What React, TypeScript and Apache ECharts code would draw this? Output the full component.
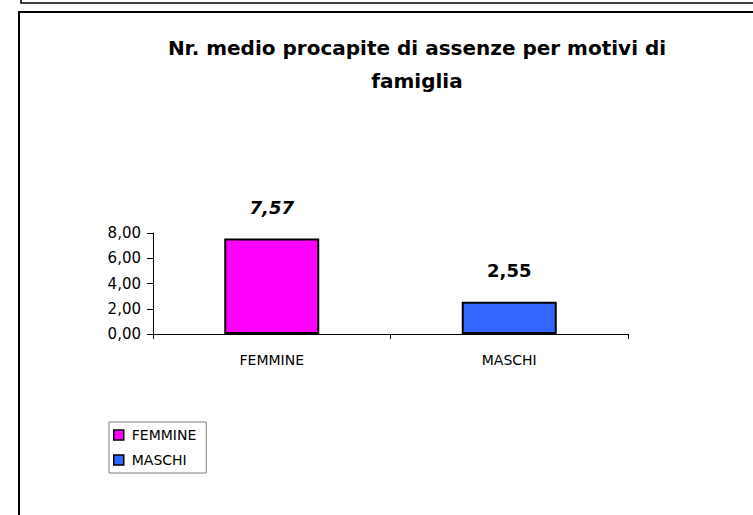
import React, { useEffect, useRef } from "react";
import * as echarts from "echarts";

const titleText = "Nr. medio procapite di assenze per motivi di\nfamiglia";
const categories = ["FEMMINE", "MASCHI"];
const values = [7.57, 2.55];
const barColors = ["#FF00FF", "#3366FF"];
const labelItalic = [true, false];
const yMin = 0;
const yMax = 8;
const yInterval = 2;

const fmt = (v: number) => v.toFixed(2).replace(".", ",");

export default function App() {
  const ref = useRef<HTMLDivElement>(null);
  useEffect(() => {
    if (!ref.current) return;
    const chart = echarts.init(ref.current, null, { renderer: "svg" });
    const font = "DejaVu Sans";
    chart.setOption({
      animation: false,
      backgroundColor: "#ffffff",
      title: {
        text: titleText,
        left: 412,
        top: 26,
        textAlign: "center",
        textStyle: {
          fontFamily: font,
          fontWeight: "bold",
          fontSize: 20,
          lineHeight: 33,
          color: "#000",
        },
      },
      legend: {
        orient: "vertical",
        left: 109,
        top: 422,
        padding: [6, 10, 6, 4],
        itemWidth: 10,
        itemHeight: 10,
        itemGap: 11,
        borderColor: "#808080",
        borderWidth: 1,
        icon: "rect",
        data: categories.map((c, i) => ({
          name: c,
          itemStyle: { color: barColors[i], borderColor: "#000", borderWidth: 1.5 },
        })),
        textStyle: { fontFamily: font, fontSize: 14, color: "#000", padding: [0, 0, 0, 3] },
      },
      graphic: [
        {
          type: "polyline",
          shape: { points: [[21, -5], [21, 3], [770, 3]] },
          style: { fill: "none", stroke: "#000", lineWidth: 1.5 },
          silent: true,
        },
        {
          type: "polyline",
          shape: { points: [[770, 12], [19, 12], [19, 530]] },
          style: { fill: "none", stroke: "#000", lineWidth: 2 },
          silent: true,
        },
      ],
      grid: { left: 153, top: 233, width: 475, height: 101, containLabel: false },
      xAxis: {
        type: "category",
        data: categories,
        axisLine: { lineStyle: { color: "#000", width: 1 } },
        axisTick: { show: true, length: 5, lineStyle: { color: "#000" } },
        axisLabel: { fontFamily: font, fontSize: 14, color: "#000", margin: 19 },
      },
      yAxis: {
        type: "value",
        min: yMin,
        max: yMax,
        interval: yInterval,
        splitLine: { show: false },
        axisLine: { show: true, lineStyle: { color: "#000", width: 1 } },
        axisTick: { show: true, length: 6, lineStyle: { color: "#000" } },
        axisLabel: {
          fontFamily: font,
          fontSize: 15,
          color: "#000",
          margin: 12,
          formatter: (v: number) => fmt(v),
        },
      },
      series: categories.map((c, i) => ({
        name: c,
        type: "bar",
        barWidth: 95,
        barGap: "-100%",
        data: categories.map((_, j) => (j === i ? values[i] : null)),
        itemStyle: { color: barColors[i], borderColor: "#000", borderWidth: 2 },
        label: {
          show: true,
          position: "top",
          distance: 22,
          fontFamily: font,
          fontSize: 18,
          fontWeight: "bold",
          fontStyle: labelItalic[i] ? "italic" : "normal",
          color: "#000",
          formatter: (p: any) => fmt(p.value),
        },
      })),
    });
    return () => chart.dispose();
  }, []);
  return (
    <div
      ref={ref}
      style={{ position: "fixed", left: 0, top: 0, width: 753, height: 515 }}
    />
  );
}
